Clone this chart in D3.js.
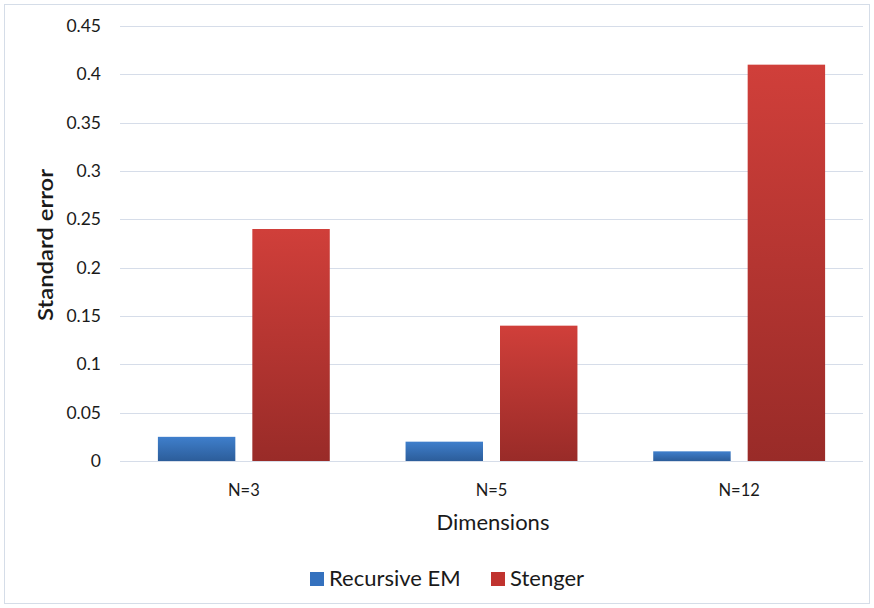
<!DOCTYPE html>
<html>
<head>
<meta charset="utf-8">
<script src="https://cdn.jsdelivr.net/npm/d3@7"></script>
<style>
  html, body { margin: 0; padding: 0; background: #fff; }
  svg { display: block; }
  text { font-family: Lato, "Open Sans", sans-serif; fill: #1a1a1a; }
</style>
</head>
<body>
<svg id="chart" width="874" height="608"></svg>
<script>
// Standard error per dimension count for two estimators
const categories = ["N=3", "N=5", "N=12"];
const seriesNames = ["Recursive EM", "Stenger"];
const recursiveEM = [0.025, 0.02, 0.01];
const stenger = [0.24, 0.14, 0.41];
const yTicks = [0, 0.05, 0.1, 0.15, 0.2, 0.25, 0.3, 0.35, 0.4, 0.45];
const yTickLabels = ["0", "0.05", "0.1", "0.15", "0.2", "0.25", "0.3", "0.35", "0.4", "0.45"];

const svg = d3.select("#chart");
const W = 874, H = 608;
const plot = { left: 120, right: 863, top: 26, bottom: 461 };

// outer chart frame
svg.append("rect")
  .attr("x", 4.5).attr("y", 4.5)
  .attr("width", W - 9).attr("height", H - 9)
  .attr("fill", "#fff").attr("stroke", "#d5dde8").attr("stroke-width", 1);

const defs = svg.append("defs");
const grads = [
  { id: "gBlue", top: "#3f7fcc", bottom: "#2c5d9a" },
  { id: "gRed", top: "#d03f3a", bottom: "#992b28" }
];
grads.forEach(g => {
  const lg = defs.append("linearGradient").attr("id", g.id)
    .attr("x1", 0).attr("y1", 0).attr("x2", 0).attr("y2", 1);
  lg.append("stop").attr("offset", "0%").attr("stop-color", g.top);
  lg.append("stop").attr("offset", "100%").attr("stop-color", g.bottom);
});

const y = d3.scaleLinear().domain([0, 0.45]).range([plot.bottom, plot.top]);
const x0 = d3.scaleBand().domain(categories).range([plot.left, plot.right]).paddingInner(0.306).paddingOuter(0.153);
const x1 = d3.scaleBand().domain(seriesNames).range([0, x0.bandwidth()]).paddingInner(0.18);

// gridlines
svg.append("g")
  .selectAll("line").data(yTicks).join("line")
  .attr("x1", plot.left).attr("x2", plot.right)
  .attr("y1", d => Math.round(y(d)) + 0.5).attr("y2", d => Math.round(y(d)) + 0.5)
  .attr("stroke", "#d6dde9").attr("stroke-width", 1.2);

// y axis labels
const yAxis = d3.axisLeft(y).tickValues(yTicks)
  .tickFormat((d, i) => yTickLabels[i]).tickSize(0).tickPadding(0);
const gy = svg.append("g").attr("transform", `translate(101,0)`).call(yAxis);
gy.select(".domain").remove();
gy.selectAll("text").style("font-size", "17.5px").attr("fill", "#1a1a1a").style("font-family", "Lato, sans-serif");

// bars
const data = categories.map((c, i) => ({ cat: c, values: [
  { name: seriesNames[0], v: recursiveEM[i], fill: "url(#gBlue)" },
  { name: seriesNames[1], v: stenger[i], fill: "url(#gRed)" }
]}));
const groups = svg.append("g").selectAll("g").data(data).join("g")
  .attr("transform", d => `translate(${x0(d.cat)},0)`);
groups.selectAll("rect").data(d => d.values).join("rect")
  .attr("x", d => x1(d.name))
  .attr("width", x1.bandwidth())
  .attr("y", d => y(d.v))
  .attr("height", d => y(0) - y(d.v))
  .attr("fill", d => d.fill);

// x axis labels
const xAxis = d3.axisBottom(x0).tickSize(0).tickPadding(0);
const gx = svg.append("g").attr("transform", `translate(0,${plot.bottom + 35})`).call(xAxis);
gx.select(".domain").remove();
gx.selectAll("text").attr("dy", 0).style("font-size", "16.5px").attr("fill", "#1a1a1a").style("font-family", "Lato, sans-serif");

// axis titles
svg.append("text")
  .attr("x", 493).attr("y", 530)
  .attr("text-anchor", "middle")
  .style("font-size", "22px")
  .text("Dimensions");
svg.append("text")
  .attr("transform", "translate(53,245) rotate(-90)")
  .attr("text-anchor", "middle")
  .attr("textLength", 152).attr("lengthAdjust", "spacingAndGlyphs")
  .style("font-size", "21px").style("font-weight", "600")
  .text("Standard error");

// legend
const legendItems = [
  { name: seriesNames[0], fill: "#3471be", x: 310 },
  { name: seriesNames[1], fill: "#c0332f", x: 491 }
];
const lg = svg.append("g");
legendItems.forEach(it => {
  lg.append("rect").attr("x", it.x).attr("y", 572).attr("width", 14).attr("height", 14).attr("fill", it.fill);
  lg.append("text").attr("x", it.x + 19).attr("y", 586).style("font-size", "22px").text(it.name);
});
</script>
</body>
</html>
